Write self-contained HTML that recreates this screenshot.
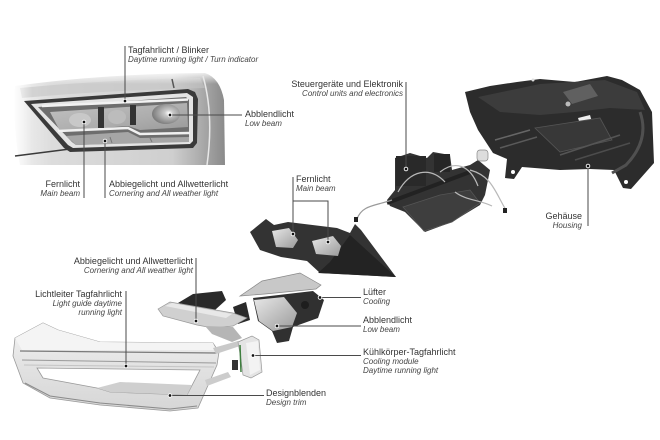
<!DOCTYPE html>
<html><head><meta charset="utf-8">
<style>
html,body{margin:0;padding:0;background:#fff;}
svg{display:block;}
text{font-family:"Liberation Sans",sans-serif;}
.g{font-size:9px;fill:#333;}
.e{font-size:8px;fill:#444;font-style:italic;}
.l{stroke:#4a4a4a;stroke-width:1;fill:none;}
.d{fill:#111;stroke:#fff;stroke-width:0.9;}
.w{fill:none;stroke:#b8b8b8;stroke-width:1.2;}
</style></head><body>
<svg width="660" height="440" viewBox="0 0 660 440" xmlns="http://www.w3.org/2000/svg">
<defs>
<linearGradient id="bodyH" x1="0" x2="1" y1="0" y2="0">
<stop offset="0" stop-color="#f2f2f2"/>
<stop offset="0.18" stop-color="#dcdcdc"/>
<stop offset="0.75" stop-color="#cfcfcf"/>
<stop offset="0.88" stop-color="#adadad"/>
<stop offset="1" stop-color="#8a8a8a"/>
</linearGradient>
<linearGradient id="fadeTop" x1="0" y1="0" x2="0" y2="1">
<stop offset="0" stop-color="#fff" stop-opacity="1"/>
<stop offset="1" stop-color="#fff" stop-opacity="0"/>
</linearGradient>
<linearGradient id="fadeLeft" x1="0" y1="0" x2="1" y2="0">
<stop offset="0" stop-color="#fff" stop-opacity="1"/>
<stop offset="1" stop-color="#fff" stop-opacity="0"/>
</linearGradient>
<linearGradient id="cav" x1="0" y1="0" x2="1" y2="1">
<stop offset="0" stop-color="#c2c2c2"/>
<stop offset="0.6" stop-color="#adadad"/>
<stop offset="1" stop-color="#9a9a9a"/>
</linearGradient>
<linearGradient id="silv" x1="0" y1="0" x2="1" y2="1">
<stop offset="0" stop-color="#e8e8e8"/>
<stop offset="1" stop-color="#9a9a9a"/>
</linearGradient>
<linearGradient id="trim" x1="0" y1="0" x2="0" y2="1">
<stop offset="0" stop-color="#f4f4f4"/>
<stop offset="0.5" stop-color="#e2e2e2"/>
<stop offset="1" stop-color="#d6d6d6"/>
</linearGradient>
<radialGradient id="proj" cx="0.6" cy="0.45" r="0.6">
<stop offset="0" stop-color="#ffffff"/>
<stop offset="0.25" stop-color="#c8c8c8"/>
<stop offset="1" stop-color="#7a7a7a"/>
</radialGradient>
</defs>

<!-- ===== Top-left car headlight ===== -->
<path d="M15,86 Q100,74 205,73 Q220,78 224,100 L225,165 L20,165 Q13,130 15,86 Z" fill="url(#bodyH)"/>
<path d="M20,88 Q100,80 200,78 L205,88 Q110,90 22,98 Z" fill="#c4c4c4" opacity="0.6"/>
<rect x="12" y="70" width="216" height="14" fill="url(#fadeTop)"/>
<rect x="10" y="70" width="22" height="100" fill="url(#fadeLeft)"/>
<path d="M203,76 Q214,115 207,165" stroke="#e8e8e8" stroke-width="1.5" fill="none"/>
<path d="M15,156 L70,149" stroke="#3a3a3a" stroke-width="1.5" fill="none"/>
<path d="M172,79 L174,88" stroke="#555" stroke-width="1.5"/>
<!-- lamp -->
<polygon points="24,101 188,89 195,92 198,99 197,143 193,148 70,152 64,148" fill="#3a3a3a"/>
<polygon points="31,104 187,93 193,97 193,141 190,144 73,148 68,145" fill="#e4e4e4"/>
<polygon points="38,107 186,97 189,100 189,139 186,141 76,145 72,142" fill="#6e6e6e"/>
<polygon points="50,112 187,103 188,127 140,130 128,126 60,131" fill="url(#cav)"/>
<line x1="42" y1="106" x2="188" y2="99.5" stroke="#f2f2f2" stroke-width="2.5"/>
<polygon points="66,136 128,132 140,138 189,137 189,142 76,145" fill="#a6a6a6"/>
<polyline points="58,131 128,128 140,134 190,133" fill="none" stroke="#f0f0f0" stroke-width="2.5"/>
<rect x="98" y="107" width="6" height="21" fill="#333"/>
<rect x="130" y="105" width="6" height="20" fill="#333"/>
<ellipse cx="80" cy="120" rx="11" ry="7" fill="#c8c8c8"/>
<ellipse cx="117" cy="117" rx="9" ry="7" fill="#bcbcbc"/>
<ellipse cx="166" cy="114" rx="14" ry="10" fill="url(#proj)"/>
<line x1="110" y1="137" x2="112" y2="143" stroke="#777" stroke-width="1"/>
<line x1="150" y1="138" x2="152" y2="142" stroke="#777" stroke-width="1"/>

<!-- ===== Housing (top right) ===== -->
<polygon points="465,92 490,86 517,82 540,79 575,82 607,76 622,80 640,90 652,112 654,163 631,189 623,188 614,170 590,169 560,170 522,167 514,179 505,178 507,159 493,153 478,130 470,112" fill="#2c2c2c"/>
<polygon points="478,97 540,84 605,80 637,92 645,110 610,108 575,112 540,115 500,112" fill="#3c3c3c"/>
<polygon points="563,92 590,84 598,96 572,104" fill="#606060"/>
<circle cx="568" cy="104" r="2.5" fill="#bbb"/>
<polygon points="578,118 590,115 592,122 580,124" fill="#eee"/>
<polygon points="535,128 600,118 612,140 560,152" fill="#383838" stroke="#555" stroke-width="0.8"/>
<line x1="495" y1="140" x2="530" y2="130" stroke="#666" stroke-width="1.5"/>
<line x1="500" y1="148" x2="537" y2="137" stroke="#5a5a5a" stroke-width="1.5"/>
<line x1="560" y1="155" x2="620" y2="135" stroke="#555" stroke-width="1.5"/>
<line x1="575" y1="160" x2="630" y2="143" stroke="#4c4c4c" stroke-width="1.5"/>
<path d="M640,112 Q650,140 626,165 L612,173" stroke="#505050" stroke-width="3" fill="none"/>
<circle cx="513" cy="172" r="2" fill="#fff"/>
<circle cx="626" cy="182" r="2" fill="#fff"/>
<circle cx="533" cy="80" r="1.5" fill="#ddd"/>

<!-- ===== Control unit ===== -->
<polygon points="387,200 395,190 395,158 410,153 427,158 433,152 450,155 452,170 470,165 478,160 490,170 485,195 480,205 452,222 425,232 405,212 390,206" fill="#333"/>
<polygon points="403,207 440,195 470,190 480,203 452,222 424,231" fill="#3e3e3e" stroke="#555" stroke-width="0.8"/>
<line x1="387" y1="203" x2="470" y2="172" stroke="#222" stroke-width="4"/>
<rect x="396" y="156" width="30" height="30" fill="#292929"/>
<rect x="434" y="154" width="16" height="18" fill="#262626"/>
<rect x="477" y="150" width="11" height="11" rx="3" fill="#ddd" stroke="#888" stroke-width="0.7"/>
<path class="w" d="M398,192 C410,170 430,166 445,182"/>
<path class="w" d="M440,172 C455,160 470,165 478,186"/>
<path class="w" d="M470,170 C492,176 495,192 506,210"/>
<path class="w" d="M455,192 C465,200 480,200 492,206"/>
<path d="M357,219 C362,205 375,206 392,200" stroke="#9a9a9a" stroke-width="1.2" fill="none"/>
<rect x="354" y="217" width="4" height="5" fill="#222"/>
<rect x="503" y="208" width="4" height="5" fill="#222"/>

<!-- ===== Main beam module ===== -->
<polygon points="250,232 266,219 274,225 288,222 337,228 350,233 355,224 361,230 396,277 320,273 307,261 281,257 260,250" fill="#333"/>
<polygon points="350,235 396,277 318,273 330,262" fill="#232323"/>
<polygon points="272,231 289,228 298,240 293,248 276,247" fill="url(#silv)"/>
<polygon points="312,241 333,236 341,246 338,256 316,254" fill="url(#silv)"/>

<!-- ===== Cornering light ===== -->
<polygon points="178,303 193,294 222,291 226,300 215,310 195,307" fill="#2a2a2a"/>
<polygon points="233,307 246,302 250,320 238,324" fill="#2a2a2a"/>
<polygon points="158,309 170,302 233,313 247,318 233,326 213,328 197,325 163,316" fill="#d0d0d0" stroke="#999" stroke-width="0.7"/>
<polygon points="165,306 172,303 232,314 226,318" fill="#e8e8e8"/>
<polygon points="205,326 233,327 242,338 232,342 212,334" fill="#b5b5b5"/>

<!-- ===== Low beam module ===== -->
<polygon points="240,296 262,281 300,273 321,285 316,289 265,294" fill="#c8c8c8" stroke="#888" stroke-width="0.7"/>
<polygon points="253,298 313,291 324,300 318,318 293,327 289,341 277,343 272,331 258,321" fill="#303030"/>
<polygon points="254,300 284,297 297,313 292,327 273,331 259,321" fill="url(#silv)"/>
<circle cx="305" cy="305" r="4" fill="#1e1e1e"/>

<!-- ===== Design trim ===== -->
<path d="M15,338 L43,323 L58,330 L100,342 L213,343 L219,352 L217,365 L198,408 L170,411 L100,405 L50,398 L23,383 L13,356 Z M37,368 L43,378 L97,388 L110,392 L187,395 L200,370 Z" fill="url(#trim)" fill-rule="evenodd" stroke="#9a9a9a" stroke-width="0.8"/>
<polygon points="15,338 43,323 58,330 100,342 213,343 216,350 22,350" fill="#f4f4f4"/>
<line x1="20" y1="351" x2="216" y2="353" stroke="#7a7a7a" stroke-width="1.2"/>
<line x1="22" y1="360" x2="216" y2="363" stroke="#999" stroke-width="1"/>
<line x1="24" y1="365" x2="214" y2="367" stroke="#c4c4c4" stroke-width="1"/>
<polygon points="97,388 110,392 187,395 192,385 120,382" fill="#cfcfcf"/>
<polyline points="25,383 50,396 100,403 170,409 197,406" fill="none" stroke="#8a8a8a" stroke-width="1"/>
<polygon points="213,348 238,341 240,346 216,354" fill="#c9c9c9"/>
<polygon points="205,380 228,372 231,377 207,386" fill="#cccccc"/>

<!-- ===== Cooling module ===== -->
<polygon points="238,342 252,336 259,340 262,372 251,378 243,375 241,360" fill="#e4e4e4" stroke="#999" stroke-width="0.7"/>
<polygon points="246,343 258,341 260,370 250,375" fill="#f3f3f3"/>
<line x1="240" y1="345" x2="241" y2="372" stroke="#3e7e3e" stroke-width="1.5"/>
<rect x="232" y="360" width="6" height="10" fill="#333"/>

<!-- ===== Leader lines ===== -->
<path class="l" d="M125,46 V101"/>
<path class="l" d="M170,115 H242"/>
<path class="l" d="M84,122 V198"/>
<path class="l" d="M105,141 V198"/>
<path class="l" d="M406,82 V169"/>
<path class="l" d="M588,166 V226"/>
<path class="l" d="M293,177 V234 M293,201 H328 V242"/>
<path class="l" d="M196,258 V321"/>
<path class="l" d="M126,291 V366"/>
<path class="l" d="M320,297.5 H361"/>
<path class="l" d="M277,326 H361"/>
<path class="l" d="M253,355.5 H361"/>
<path class="l" d="M170,395.5 H264"/>

<!-- dots -->
<circle class="d" cx="125" cy="101" r="1.8"/>
<circle class="d" cx="170" cy="115" r="1.8"/>
<circle class="d" cx="84" cy="122" r="1.8"/>
<circle class="d" cx="105" cy="141" r="1.8"/>
<circle class="d" cx="406" cy="169" r="1.8"/>
<circle class="d" cx="588" cy="166" r="1.8"/>
<circle class="d" cx="293" cy="234" r="1.8"/>
<circle class="d" cx="328" cy="242" r="1.8"/>
<circle class="d" cx="196" cy="321" r="1.8"/>
<circle class="d" cx="126" cy="366" r="1.8"/>
<circle class="d" cx="320" cy="297.5" r="1.8"/>
<circle class="d" cx="277" cy="326" r="1.8"/>
<circle class="d" cx="253" cy="355.5" r="1.8"/>
<circle class="d" cx="170" cy="395.5" r="1.8"/>

<!-- ===== Labels ===== -->
<text class="g" x="128" y="53">Tagfahrlicht / Blinker</text>
<text class="e" x="128" y="62">Daytime running light / Turn indicator</text>

<text class="g" x="245" y="117">Abblendlicht</text>
<text class="e" x="245" y="126">Low beam</text>

<text class="g" x="80" y="187" text-anchor="end">Fernlicht</text>
<text class="e" x="80" y="196" text-anchor="end">Main beam</text>

<text class="g" x="109" y="187">Abbiegelicht und Allwetterlicht</text>
<text class="e" x="109" y="196">Cornering and All weather light</text>

<text class="g" x="403" y="87" text-anchor="end">Steuergeräte und Elektronik</text>
<text class="e" x="403" y="96" text-anchor="end">Control units and electronics</text>

<text class="g" x="582" y="219" text-anchor="end">Gehäuse</text>
<text class="e" x="582" y="228" text-anchor="end">Housing</text>

<text class="g" x="296" y="182">Fernlicht</text>
<text class="e" x="296" y="191">Main beam</text>

<text class="g" x="193" y="264" text-anchor="end">Abbiegelicht und Allwetterlicht</text>
<text class="e" x="193" y="273" text-anchor="end">Cornering and All weather light</text>

<text class="g" x="122" y="297" text-anchor="end">Lichtleiter Tagfahrlicht</text>
<text class="e" x="122" y="306" text-anchor="end">Light guide daytime</text>
<text class="e" x="122" y="315" text-anchor="end">running light</text>

<text class="g" x="363" y="295">Lüfter</text>
<text class="e" x="363" y="304">Cooling</text>

<text class="g" x="363" y="323">Abblendlicht</text>
<text class="e" x="363" y="332">Low beam</text>

<text class="g" x="363" y="355">Kühlkörper-Tagfahrlicht</text>
<text class="e" x="363" y="364">Cooling module</text>
<text class="e" x="363" y="373">Daytime running light</text>

<text class="g" x="266" y="396">Designblenden</text>
<text class="e" x="266" y="405">Design trim</text>
</svg>
</body></html>
